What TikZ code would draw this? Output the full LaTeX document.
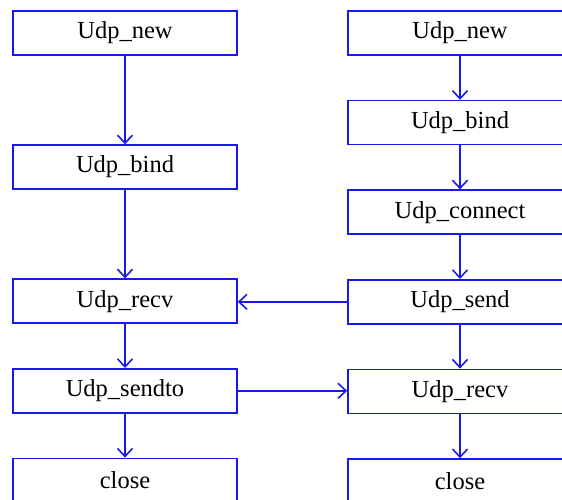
\documentclass[tikz,border=0pt]{standalone}
\usepackage{fontspec}
\setmainfont{Liberation Serif}
\usetikzlibrary{arrows.meta,positioning}

\definecolor{flowblue}{RGB}{25,25,235}

\begin{document}
\begin{tikzpicture}[
  x=1pt, y=1pt,
  node distance=44pt,
  box/.style={draw=flowblue, line width=1.6pt, minimum width=224pt, minimum height=44pt, inner sep=0pt, font=\fontsize{24.5}{28}\selectfont},
  arr/.style={-{Straight Barb[length=8pt,width=15pt,line width=1.6pt]}, draw=flowblue, line width=1.6pt},
]
  \useasboundingbox (0,0) rectangle (562,-500);

  % Left column
  \node[box] (lnew) at (125,-33) {Udp\_new};
  \node[box, below=88.5pt of lnew] (lbind) {Udp\_bind};
  \node[box, below=88.5pt of lbind] (lrecv) {Udp\_recv};
  \node[box, below=of lrecv] (lsendto) {Udp\_sendto};
  \node[box, below=of lsendto] (lclose) {close};

  % Right column
  \node[box] (rnew) at (460,-33) {Udp\_new};
  \node[box, below=of rnew] (rbind) {Udp\_bind};
  \node[box, below=of rbind] (rconnect) {Udp\_connect};
  \node[box, below=of rconnect] (rsend) {Udp\_send};
  \node[box, below=of rsend] (rrecv) {Udp\_recv};
  \node[box, below=of rrecv] (rclose) {close};

  \draw[arr] (lnew) -- (lbind);
  \draw[arr] (lbind) -- (lrecv);
  \draw[arr] (lrecv) -- (lsendto);
  \draw[arr] (lsendto) -- (lclose);

  \draw[arr] (rnew) -- (rbind);
  \draw[arr] (rbind) -- (rconnect);
  \draw[arr] (rconnect) -- (rsend);
  \draw[arr] (rsend) -- (rrecv);
  \draw[arr] (rrecv) -- (rclose);

  % Between the columns
  \draw[arr] (rsend.west) -- (rsend.west -| lrecv.east);
  \draw[arr] (lsendto.east) -- (lsendto.east -| rrecv.west);
\end{tikzpicture}
\end{document}
